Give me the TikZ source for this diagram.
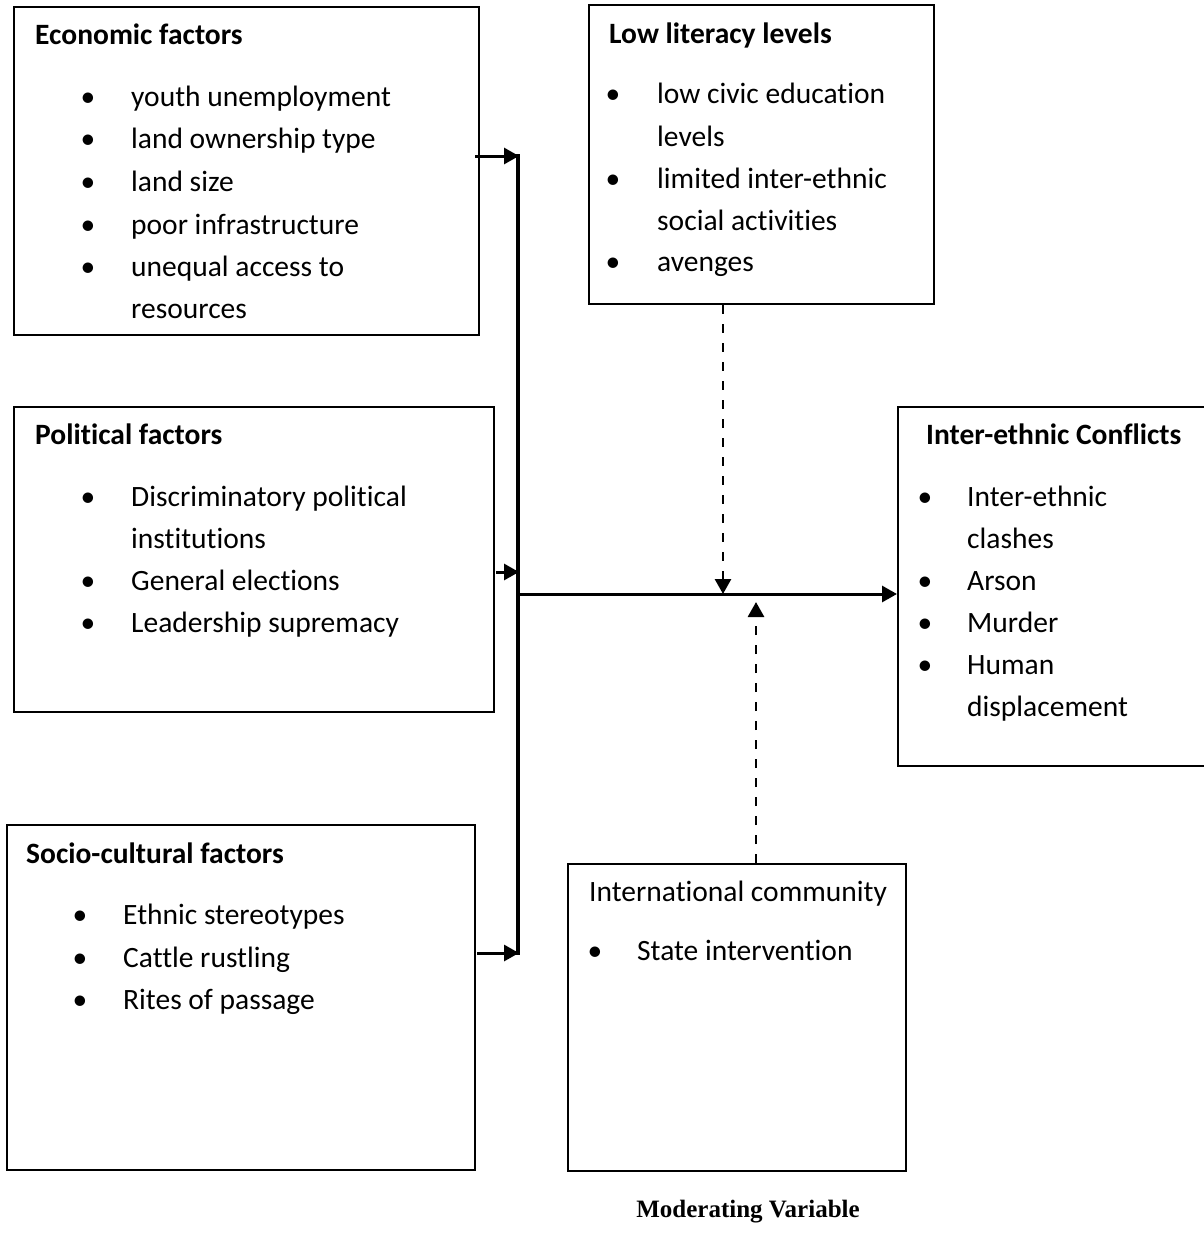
\documentclass[tikz,border=0pt]{standalone}
\usepackage{fontspec}
\setmainfont{Carlito}[Ligatures={NoCommon}]
\newfontfamily\tnrfont{Liberation Serif}
\usetikzlibrary{arrows.meta}
\tikzset{
  box/.style={draw, line width=2pt, rectangle, inner sep=0pt, anchor=north west},
  txt/.style={inner sep=0pt, anchor=base west, font=\fontsize{29.5}{35}\selectfont},
  bul/.style={inner sep=0pt, anchor=base, font=\fontsize{29.5}{35}\selectfont},
  arr/.style={line width=3pt, -{Triangle[length=15pt,width=16pt]}},
  bus/.style={line width=4pt},
  darr/.style={line width=2.8pt, dash pattern=on 9pt off 10pt, -{Triangle[length=15pt,width=16pt]}}
}
\newcommand\txtline[4]{\node[txt] (#1) at (#2,#3) {#4};}
\newcommand\bitem[5]{\node[bul] (#1b) at (#2,#4) {•};\node[txt] (#1) at (#3,#4) {#5};}
\begin{document}
\begin{tikzpicture}[x=1pt,y=-1pt]
\useasboundingbox (0,0) rectangle (1203,1245);
% boxes
\node[box, minimum width=465pt, minimum height=328pt] (eco) at (13,6) {};
\node[box, minimum width=345pt, minimum height=299pt] (lit) at (588,4) {};
\node[box, minimum width=480pt, minimum height=305pt] (pol) at (13,406) {};
\node[box, minimum width=312pt, minimum height=359pt] (ie) at (897,406) {};
\node[box, minimum width=468pt, minimum height=345pt] (soc) at (6,824) {};
\node[box, minimum width=338pt, minimum height=307pt] (intl) at (567,863) {};
% economic
\txtline{ecot}{35}{44}{\textbf{Economic factors}}
\bitem{e1}{88}{131}{106}{youth unemployment}
\bitem{e2}{88}{131}{148}{land ownership type}
\bitem{e3}{88}{131}{191}{land size}
\bitem{e4}{88}{131}{234}{poor infrastructure}
\bitem{e5}{88}{131}{276}{unequal access to}
\txtline{e6}{131}{318}{resources}
% literacy
\txtline{litt}{609}{43}{\textbf{Low literacy levels}}
\bitem{l1}{613}{657}{103}{low civic education}
\txtline{l2}{657}{146}{levels}
\bitem{l3}{613}{657}{188}{limited inter-ethnic}
\txtline{l4}{657}{230}{social activities}
\bitem{l5}{613}{657}{271}{avenges}
% political
\txtline{polt}{35}{444}{\textbf{Political factors}}
\bitem{p1}{88}{131}{506}{Discriminatory political}
\txtline{p2}{131}{548}{institutions}
\bitem{p3}{88}{131}{590}{General elections}
\bitem{p4}{88}{131}{632}{Leadership supremacy}
% inter-ethnic conflicts
\txtline{iet}{926}{444}{\textbf{Inter-ethnic Conflicts}}
\bitem{i1}{925}{967}{506}{Inter-ethnic}
\txtline{i2}{967}{548}{clashes}
\bitem{i3}{925}{967}{590}{Arson}
\bitem{i4}{925}{967}{632}{Murder}
\bitem{i5}{925}{967}{674}{Human}
\txtline{i6}{967}{716}{displacement}
% socio-cultural
\txtline{soct}{26}{863}{\textbf{Socio-cultural factors}}
\bitem{s1}{80}{123}{924}{Ethnic stereotypes}
\bitem{s2}{80}{123}{967}{Cattle rustling}
\bitem{s3}{80}{123}{1009}{Rites of passage}
% international
\txtline{intt}{589}{901}{International community}
\bitem{n1}{595}{637}{960}{State intervention}
% caption
\node[inner sep=0pt, anchor=base, font=\tnrfont\bfseries\fontsize{25}{30}\selectfont] (cap) at (748,1217) {Moderating Variable};
% connectors
\coordinate (j1) at (519,156);
\coordinate (j2) at (519,572);
\coordinate (j3) at (519,953);
\coordinate (jt) at (518,154);
\coordinate (jb) at (518,955);
\coordinate (jm) at (518,594);
\coordinate (d1) at (723,594);
\coordinate (d2) at (756,602);
\draw[bus] (jt) -- (jb);
\draw[arr] ([xshift=-5pt]eco.east |- j1) -- (j1);
\draw[arr] ([xshift=1pt]pol.east |- j2) -- (j2);
\draw[arr] ([xshift=1pt]soc.east |- j3) -- (j3);
\draw[arr] (jm) -- (ie.west |- jm);
\draw[darr] (lit.south -| d1) -- (d1);
\draw[darr] (intl.north -| d2) -- (d2);
\end{tikzpicture}
\end{document}
